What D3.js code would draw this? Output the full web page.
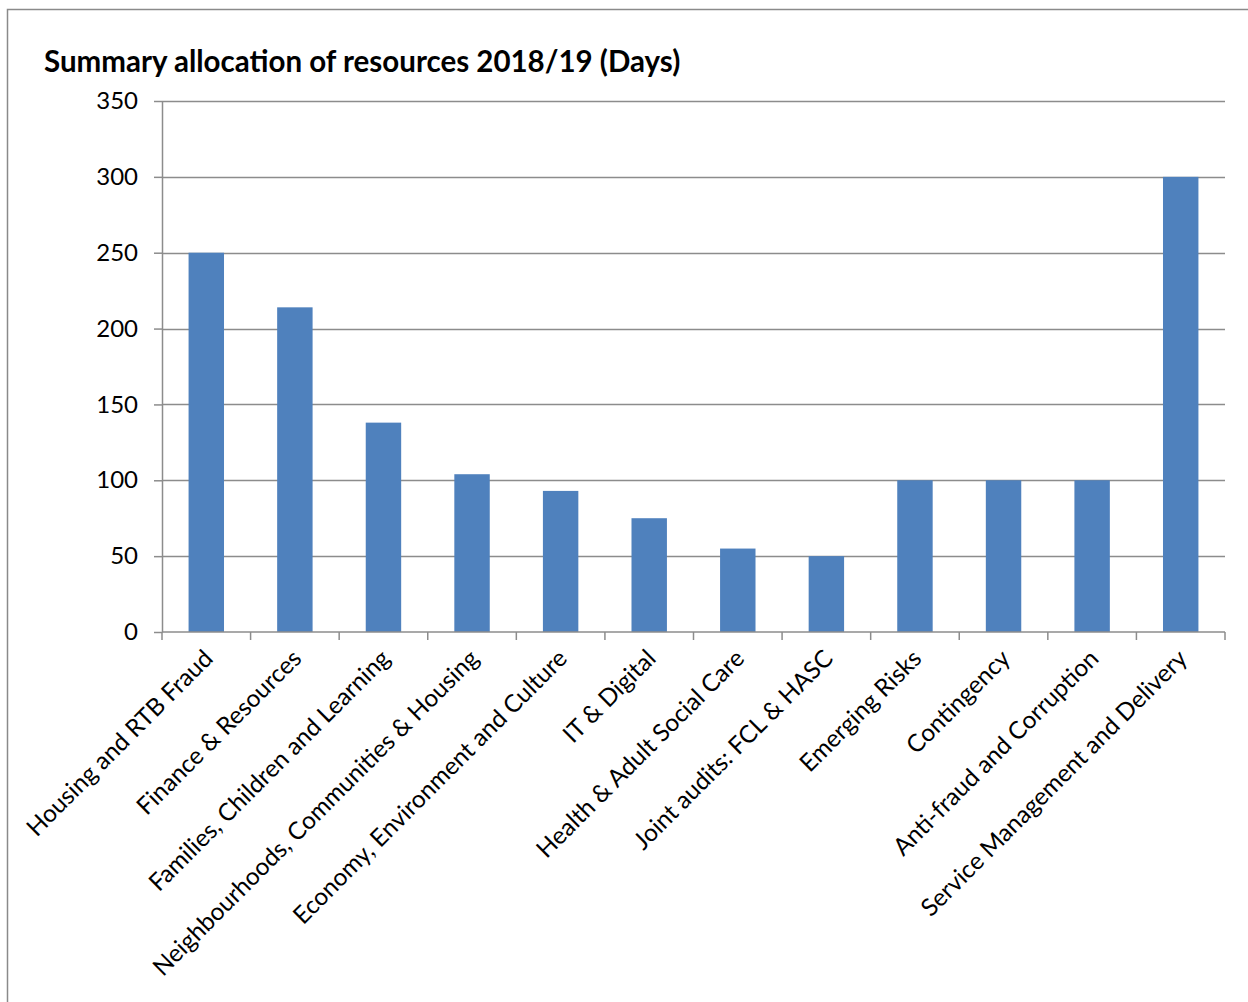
<!DOCTYPE html>
<html>
<head>
<meta charset="utf-8">
<script src="https://cdn.jsdelivr.net/npm/d3@7"></script>
<style>
  body { margin: 0; background: #fff; }
  svg { display: block; }
</style>
</head>
<body>
<div id="chart"></div>
<script>
// Data
const categories = [
  "Housing and RTB Fraud",
  "Finance & Resources",
  "Families, Children and Learning",
  "Neighbourhoods, Communities & Housing",
  "Economy, Environment and Culture",
  "IT & Digital",
  "Health & Adult Social Care",
  "Joint audits: FCL & HASC",
  "Emerging Risks",
  "Contingency",
  "Anti-fraud and Corruption",
  "Service Management and Delivery"
];
const days = [250, 214, 138, 104, 93, 75, 55, 50, 100, 100, 100, 300];
const yTicks = [0, 50, 100, 150, 200, 250, 300, 350];

// Layout
const width = 1248;
const height = 1002;
const plotLeft = 162;
const plotRight = 1225;
const plotTop = 101;
const plotBottom = 632;
const font = "Lato, 'Open Sans', sans-serif";
const gridColor = "#8c8c8c";

const x = d3.scaleBand()
  .domain(categories)
  .range([plotLeft, plotRight])
  .paddingInner(0.6)
  .paddingOuter(0.3);

const y = d3.scaleLinear([0, 350], [plotBottom, plotTop]);

const svg = d3.select("#chart").append("svg")
  .attr("width", width)
  .attr("height", height)
  .attr("viewBox", [0, 0, width, height]);

// outer frame (left and top edges only visible)
svg.append("path")
  .attr("d", `M7.5,${height} V9.5 H${width}`)
  .attr("fill", "none")
  .attr("stroke", "#8a8a8a")
  .attr("stroke-width", 1.5);

// title
svg.append("text")
  .attr("x", 44)
  .attr("y", 72)
  .attr("font-family", font)
  .attr("font-weight", "bold")
  .attr("font-size", 29.5)
  .attr("fill", "#000")
  .text("Summary allocation of resources 2018/19 (Days)");

// gridlines
svg.append("g")
  .selectAll("line")
  .data(yTicks.filter(d => d > 0))
  .join("line")
  .attr("x1", plotLeft)
  .attr("x2", plotRight)
  .attr("y1", d => Math.round(y(d)) + 0.5)
  .attr("y2", d => Math.round(y(d)) + 0.5)
  .attr("stroke", gridColor)
  .attr("stroke-width", 1.5);

// bars
svg.append("g")
  .selectAll("rect")
  .data(days)
  .join("rect")
  .attr("x", (d, i) => x(categories[i]))
  .attr("y", d => y(d))
  .attr("width", x.bandwidth())
  .attr("height", d => y(0) - y(d))
  .attr("fill", "#4f81bd");

// y axis
const yAxis = d3.axisLeft(y)
  .tickValues(yTicks)
  .tickSize(8)
  .tickSizeOuter(0)
  .tickPadding(16);

svg.append("g")
  .attr("transform", `translate(${plotLeft},0)`)
  .call(yAxis)
  .call(g => g.selectAll("line, path").attr("stroke", gridColor).attr("stroke-width", 1.5))
  .call(g => g.selectAll("text")
    .attr("font-family", font)
    .attr("font-size", 24)
    .attr("fill", "#000"));

// x axis line with ticks at category boundaries
const xg = svg.append("g");
xg.append("line")
  .attr("x1", plotLeft)
  .attr("x2", plotRight)
  .attr("y1", plotBottom)
  .attr("y2", plotBottom)
  .attr("stroke", gridColor)
  .attr("stroke-width", 1.5);

const boundaries = d3.range(categories.length + 1).map(i => plotLeft + i * x.step());
xg.selectAll("line.tick")
  .data(boundaries)
  .join("line")
  .attr("class", "tick")
  .attr("x1", d => d)
  .attr("x2", d => d)
  .attr("y1", plotBottom)
  .attr("y2", plotBottom + 8)
  .attr("stroke", gridColor)
  .attr("stroke-width", 1.5);

// rotated category labels
xg.selectAll("text")
  .data(categories)
  .join("text")
  .attr("transform", d => `translate(${x(d) + x.bandwidth() / 2 - 4},${plotBottom + 16}) rotate(-45)`)
  .attr("text-anchor", "end")
  .attr("dy", "0.7em")
  .attr("font-family", font)
  .attr("font-size", 24.3)
  .attr("fill", "#000")
  .text(d => d);
</script>
</body>
</html>
